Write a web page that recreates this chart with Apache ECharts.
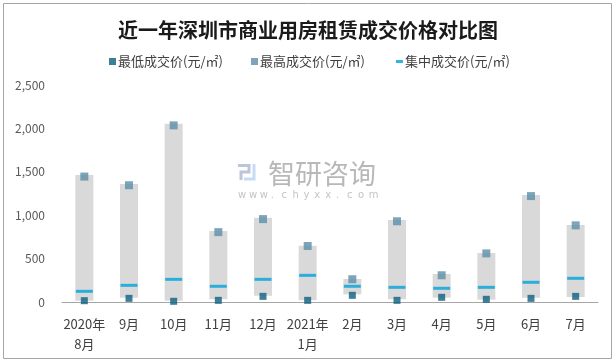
<!DOCTYPE html>
<html>
<head>
<meta charset="utf-8">
<script src="https://cdn.jsdelivr.net/npm/echarts@6/dist/echarts.min.js"></script>
<style>
html,body{margin:0;padding:0;background:#fff;}
#c{width:616px;height:363px;}
</style>
</head>
<body>
<div id="c"></div>
<script>
const categories = ['2020年\n8月','9月','10月','11月','12月','2021年\n1月','2月','3月','4月','5月','6月','7月'];
const minPrice = [15, 42, 8, 19, 65, 19, 77, 19, 54, 31, 42, 65];
const maxPrice = [1445, 1345, 2035, 805, 955, 645, 262, 930, 308, 560, 1220, 883];
const midPrice = [123, 192, 261, 181, 261, 307, 181, 169, 158, 169, 227, 273];
const rangeLow = [15, 50, 15, 31, 73, 19, 88, 31, 50, 27, 50, 58];
const rangeHigh = [1463, 1359, 2054, 818, 971, 649, 265, 945, 323, 565, 1233, 887];
const yTicks = [0, 500, 1000, 1500, 2000, 2500];

const FONT = '"Noto Sans CJK SC", "Microsoft YaHei", sans-serif';
const chart = echarts.init(document.getElementById('c'));
const names = ['最低成交价(元/㎡)', '最高成交价(元/㎡)', '集中成交价(元/㎡)'];

const wmUrl = 'www.chyxx.com';
const wmChars = wmUrl.split('').map((ch, i) => ({
  type: 'text', left: 238 + i * 10.9, top: 190, z: 0, silent: true,
  style: { text: ch, fill: '#c4c4c4', fontSize: 10, fontFamily: 'DejaVu Sans' }
}));

chart.setOption({
  animation: false,
  backgroundColor: '#fff',
  textStyle: { fontFamily: FONT },
  title: {
    text: '近一年深圳市商业用房租赁成交价格对比图',
    left: 'center', top: 15,
    textStyle: { fontFamily: FONT, fontSize: 20, fontWeight: 'bold', color: '#1a1a1a' }
  },
  legend: [
    { data: [names[0]], left: 104, top: 50, itemWidth: 7, itemHeight: 7, itemGap: 4, icon: 'rect',
      textStyle: { fontSize: 13, color: '#404040', fontFamily: FONT, padding: [0, 0, 0, -3] } },
    { data: [names[1]], left: 246, top: 50, itemWidth: 7, itemHeight: 7, icon: 'rect',
      textStyle: { fontSize: 13, color: '#404040', fontFamily: FONT, padding: [0, 0, 0, -3] } },
    { data: [names[2]], left: 391, top: 50, itemWidth: 7, itemHeight: 3, icon: 'rect',
      textStyle: { fontSize: 13, color: '#404040', fontFamily: FONT, padding: [0, 0, 0, -3] } }
  ],
  grid: { left: 62, right: 18, top: 85, bottom: 61, containLabel: false },
  xAxis: {
    type: 'category',
    data: categories,
    axisLine: { lineStyle: { color: '#a6a6a6', width: 1 } },
    axisTick: { show: false },
    axisLabel: { color: '#404040', fontSize: 13, margin: 12, lineHeight: 20, interval: 0 }
  },
  yAxis: {
    type: 'value',
    min: yTicks[0], max: yTicks[yTicks.length - 1], interval: 500,
    axisLine: { show: false },
    axisTick: { show: false },
    splitLine: { show: false },
    axisLabel: {
      color: '#595959', fontSize: 12, margin: 17,
      formatter: v => v.toLocaleString('en-US')
    }
  },
  graphic: [
    { type: 'rect', shape: { x: 3.5, y: 3.5, width: 608, height: 355 },
      style: { fill: 'none', stroke: '#a6a6a6', lineWidth: 1 }, silent: true, z: -1 },
    { type: 'text', left: 268, top: 160, z: 0, silent: true,
      style: { text: '智研咨询', fill: '#b8b8b8', fontSize: 27, fontFamily: FONT } },
    { type: 'polyline', silent: true, z: 0,
      shape: { points: [[238, 165.5], [249, 165.5], [249, 172], [241, 172], [241, 180]] },
      style: { stroke: '#bcc6da', lineWidth: 3, fill: 'none' } },
    { type: 'polyline', silent: true, z: 0,
      shape: { points: [[254, 164], [254, 179], [244, 179]] },
      style: { stroke: '#c6dcf2', lineWidth: 3, fill: 'none' } }
  ].concat(wmChars),
  series: [
    { name: 'base', type: 'bar', stack: 'r', barWidth: 18, silent: true,
      itemStyle: { color: 'transparent' }, data: rangeLow },
    { name: 'range', type: 'bar', stack: 'r', barWidth: 18, silent: true,
      itemStyle: { color: '#d9d9d9' },
      data: rangeHigh.map((h, i) => h - rangeLow[i]) },
    { name: names[0], type: 'scatter', symbol: 'rect', symbolSize: 7,
      itemStyle: { color: '#0d5f80' }, data: minPrice, z: 5 },
    { name: names[1], type: 'scatter', symbol: 'rect', symbolSize: 8,
      itemStyle: { color: '#5b8ea9' }, data: maxPrice, z: 5 },
    { name: names[2], type: 'scatter', symbol: 'rect', symbolSize: [17, 3],
      itemStyle: { color: '#00a3dd' }, data: midPrice, z: 5 }
  ]
});
</script>
</body>
</html>
